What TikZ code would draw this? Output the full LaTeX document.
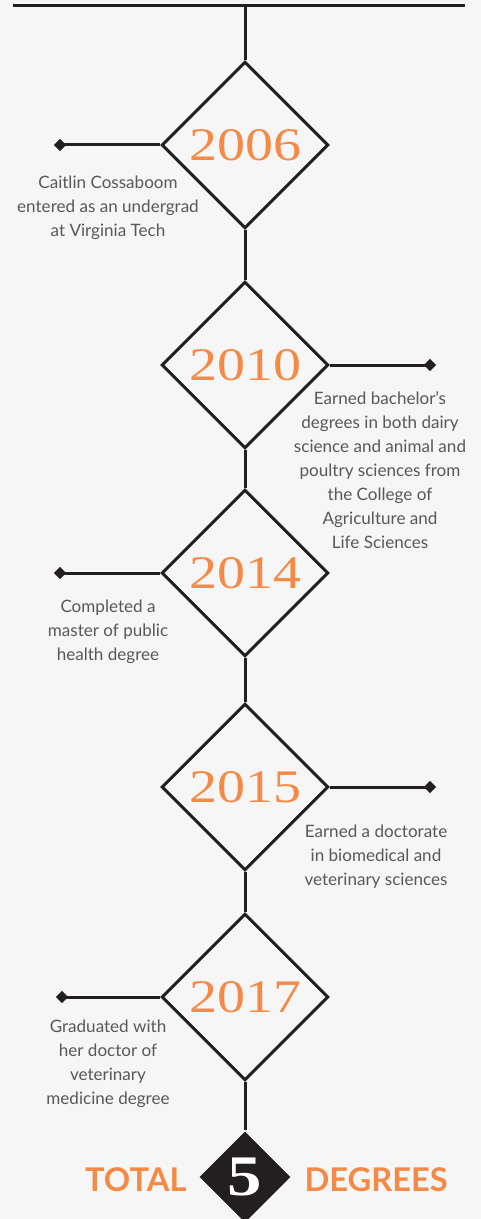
\documentclass[tikz,border=0pt]{standalone}
\usepackage{fontspec}
\setmainfont{Lato}
\newfontfamily\yearserif[FakeStretch=1.2]{Liberation Serif}
\usetikzlibrary{shapes.geometric}

\definecolor{tlorange}{RGB}{245,137,70}
\definecolor{tlgray}{RGB}{88,88,88}
\definecolor{tlink}{RGB}{35,31,32}
\definecolor{tlbg}{RGB}{246,246,246}

\tikzset{every picture/.style={line width=2.25pt}}

\begin{document}
\begin{tikzpicture}[x=0.75pt,y=0.75pt,yscale=-1,
	yearbox/.style={draw=tlink,shape=diamond,aspect=1,minimum width=125pt,minimum height=125pt,inner sep=0pt,text=tlorange,font=\yearserif\fontsize{35}{35}\selectfont},
	totalbox/.style={fill=tlink,shape=diamond,aspect=1,minimum width=69pt,minimum height=69pt,inner sep=0pt,text=white,font=\yearserif\bfseries\fontsize{43}{43}\selectfont},
	pin/.style={fill=tlink,shape=diamond,aspect=1,minimum width=10pt,minimum height=10pt,inner sep=0pt},
	note/.style={anchor=north,inner sep=0pt,align=center,text=tlgray,font=\fontsize{12.8}{18}\selectfont},
	bigword/.style={inner sep=0pt,text=tlorange,font=\bfseries\fontsize{24.5}{24.5}\selectfont}]
	%set diagram to the page size
	\fill [tlbg] (0,0) rectangle (481,1219);
	\useasboundingbox (0,0) rectangle (481,1219);
	
	%Top rule
	\coordinate (barL) at (13,6);
	\coordinate (barR) at (465,6);
	\coordinate (barM) at (245,6);
	\draw [color=tlink] (barL) -- (barR);
	
	%Year diamonds
	\node [yearbox] (d2006) at (245,145) {2006};
	\node [yearbox] (d2010) at (245,365) {2010};
	\node [yearbox] (d2014) at (245,573) {2014};
	\node [yearbox] (d2015) at (245,787) {2015};
	\node [yearbox] (d2017) at (245,997) {2017};
	\node [totalbox] (five) at (245,1177) {5};
	
	%Spine
	\draw [color=tlink] (barM) -- (d2006.north);
	\foreach \a/\b in {d2006/d2010,d2010/d2014,d2014/d2015,d2015/d2017,d2017/five}
		\draw [color=tlink] (\a.south) -- (\b.north);
	
	%Pins
	\node [pin] (p2006) at (60,145) {};
	\node [pin] (p2010) at (430,365) {};
	\node [pin] (p2014) at (60,573) {};
	\node [pin] (p2015) at (430,787) {};
	\node [pin] (p2017) at (62,997) {};
	\draw [color=tlink] (d2006.west) -- (p2006.center);
	\draw [color=tlink] (d2010.east) -- (p2010.center);
	\draw [color=tlink] (d2014.west) -- (p2014.center);
	\draw [color=tlink] (d2015.east) -- (p2015.center);
	\draw [color=tlink] (d2017.west) -- (p2017.center);
	
	% Text Node
	\node [note] (t2006) at (108,174) {Caitlin Cossaboom\\entered as an undergrad\\at Virginia Tech};
	% Text Node
	\node [note] (t2010) at (380,390) {Earned bachelor’s\\degrees in both dairy\\science and animal and\\poultry sciences from\\the College of\\Agriculture and\\Life Sciences};
	% Text Node
	\node [note] (t2014) at (108,598) {Completed a\\master of public\\health degree};
	% Text Node
	\node [note] (t2015) at (376,823) {Earned a doctorate\\in biomedical and\\veterinary sciences};
	% Text Node
	\node [note] (t2017) at (108,1018) {Graduated with\\her doctor of\\veterinary\\medicine degree};
	
	% Text Node
	\node [bigword,anchor=east] (total) at (188,1180) {TOTAL};
	% Text Node
	\node [bigword,anchor=west] (degrees) at (303,1180) {DEGREES};
	
\end{tikzpicture}
\end{document}
